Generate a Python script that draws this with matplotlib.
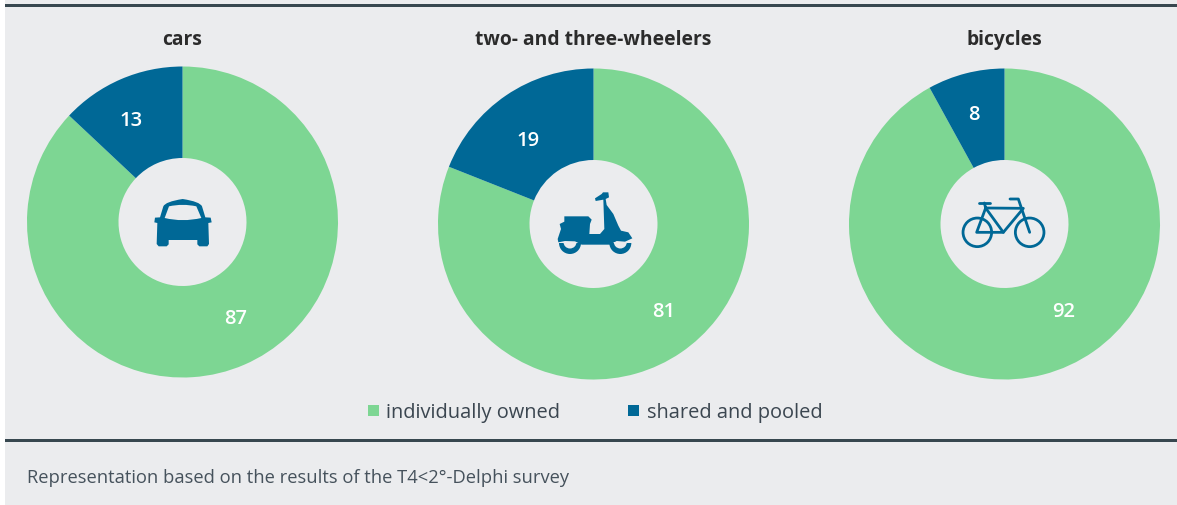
import matplotlib
matplotlib.use("Agg")
import matplotlib.pyplot as plt
from matplotlib.patches import Polygon, Rectangle, Circle, Wedge, PathPatch
from matplotlib.path import Path

plt.rcParams["font.family"] = ["Open Sans", "DejaVu Sans"]

titles = ["cars", "two- and three-wheelers", "bicycles"]
individually_owned = [87, 81, 92]
shared_and_pooled = [13, 19, 8]
legend_labels = ["individually owned", "shared and pooled"]
note = "Representation based on the results of the T4<2°-Delphi survey"

W, H = 1177, 506
GREEN = "#7dd693"
BLUE = "#006896"
PANEL = "#ebecee"
RULE = "#37474f"

centers = [(182.5, 223), (593.5, 225), (1004.5, 225)]
title_y = 40
radius = 155.5
hole = 64
text_shift = 2  # Open Sans sits a bit high with va=center
owned_pos = [(236, 317), (664, 310), (1064, 310)]
shared_pos = [(131, 119), (528, 139), (974, 113)]

fig = plt.figure(figsize=(W / 100, H / 100), dpi=100, facecolor="white")

# background layer in pixel coordinates
bg = fig.add_axes([0, 0, 1, 1])
bg.set_xlim(0, W)
bg.set_ylim(H, 0)
bg.axis("off")
bg.add_patch(Rectangle((5, 0), W - 5, H, color=PANEL, lw=0))
bg.add_patch(Rectangle((5, 5), W - 5, 3, color=RULE, lw=0))
bg.add_patch(Rectangle((5, 439.5), W - 5, 3, color=RULE, lw=0))

# the doughnuts
for i in range(3):
    cx, cy = centers[i]
    pie_ax = fig.add_axes([(cx - radius) / W, 1 - (cy + radius) / H, 2 * radius / W, 2 * radius / H])
    pie_ax.pie([individually_owned[i], shared_and_pooled[i]], colors=[GREEN, BLUE], startangle=90,
               counterclock=False, radius=1, wedgeprops={"width": 1 - hole / radius, "linewidth": 0})
    pie_ax.set_xlim(-1, 1)
    pie_ax.set_ylim(-1, 1)
    pie_ax.set_zorder(1)
    pie_ax.patch.set_alpha(0)

# top layer for text and icons
top = fig.add_axes([0, 0, 1, 1])
top.set_xlim(0, W)
top.set_ylim(H, 0)
top.axis("off")
top.patch.set_alpha(0)
top.set_zorder(2)

for i in range(3):
    top.text(centers[i][0], title_y, titles[i], ha="center", va="center", fontsize=13.9,
             fontweight="bold", color="#2b2b2b")
    top.text(owned_pos[i][0], owned_pos[i][1] + text_shift, str(individually_owned[i]), ha="center", va="center",
             fontsize=14.5, fontweight="semibold", color="white")
    top.text(shared_pos[i][0], shared_pos[i][1] + text_shift, str(shared_and_pooled[i]), ha="center", va="center",
             fontsize=14.5, fontweight="semibold", color="white")


def zoomed(points, x0, y0):
    return [(x0 + x / 3, y0 + y / 3) for x, y in points]


def curved(points, codes, x0, y0, color, z):
    top.add_patch(PathPatch(Path(zoomed(points, x0, y0), codes), fc=color, lw=0, zorder=z))


M, L, Q, Z = Path.MOVETO, Path.LINETO, Path.CURVE3, Path.CLOSEPOLY

# car icon
cx0, cy0 = 120, 170
car_pts = [(120, 145), (130, 112), (136, 98), (188, 90), (240, 98), (246, 112), (256, 145), (272, 146), (275, 160),
           (265, 162), (267, 225), (262, 232), (238, 232), (232, 226), (232, 213), (146, 213), (146, 226), (140, 232),
           (116, 232), (110, 225), (112, 162), (103, 160), (105, 146), (120, 145)]
car_codes = [M, L, Q, Q, Q, Q, L, L, L, L, L, L, L, L, L, L, L, L, L, L, L, L, L, Z]
curved(car_pts, car_codes, cx0, cy0, BLUE, 3)
glass_pts = [(134, 147), (147, 112), (188, 103), (229, 112), (244, 147), (188, 160), (134, 147)]
glass_codes = [M, L, Q, Q, L, Q, Q]
curved(glass_pts, glass_codes, cx0, cy0, PANEL, 4)

# scooter icon
sx0, sy0 = 535, 180
scooter = [(180, 58), (200, 45), (204, 40), (220, 40), (222, 55), (212, 60), (215, 78), (235, 105), (250, 140),
           (258, 155), (280, 160), (292, 178), (270, 188), (245, 186), (225, 197), (140, 197), (120, 187), (90, 186),
           (70, 190), (68, 180), (78, 150), (74, 135), (88, 128), (88, 112), (160, 112), (170, 122), (165, 135),
           (163, 165), (195, 165), (208, 150), (205, 62), (182, 66)]
top.add_patch(Polygon(zoomed(scooter, sx0, sy0), color=BLUE, lw=0, zorder=3))
for wx in (105, 256):
    (px, py), = zoomed([(wx, 192)], sx0, sy0)
    top.add_patch(Wedge((px, py), 11, 0, 180, width=11, color=BLUE, lw=0, zorder=4))
    top.add_patch(Wedge((px, py - 1), 6.5, 0, 180, width=6.5, color=PANEL, lw=0, zorder=5))

# bicycle icon
bx0, by0 = 945, 180
for wx in (97, 254):
    (px, py), = zoomed([(wx, 160)], bx0, by0)
    top.add_patch(Circle((px, py), 14.3, fill=False, ec=BLUE, lw=2.0, zorder=3))
bike_lines = [[(118, 72), (122, 87), (95, 160), (175, 160), (235, 88), (122, 87)],
              [(122, 87), (175, 160)],
              [(195, 60), (220, 60), (254, 160)],
              [(102, 72), (136, 72)]]
for line in bike_lines:
    pts = zoomed(line, bx0, by0)
    top.plot([p[0] for p in pts], [p[1] for p in pts], color=BLUE, lw=2.0, solid_capstyle="round",
             solid_joinstyle="round", zorder=4)

# legend
top.add_patch(Rectangle((367.5, 405.5), 11, 11, color=GREEN, lw=0))
top.add_patch(Rectangle((628, 405.5), 11, 11, color=BLUE, lw=0))
top.text(386, 411 + text_shift, legend_labels[0], ha="left", va="center", fontsize=14.4, color="#3b4650")
top.text(647, 411 + text_shift, legend_labels[1], ha="left", va="center", fontsize=14.4, color="#3b4650")

# footnote
top.text(27, 476 + text_shift, note, ha="left", va="center", fontsize=13.2, color="#46525c")

fig.savefig("out.png", dpi=100, facecolor="white")
